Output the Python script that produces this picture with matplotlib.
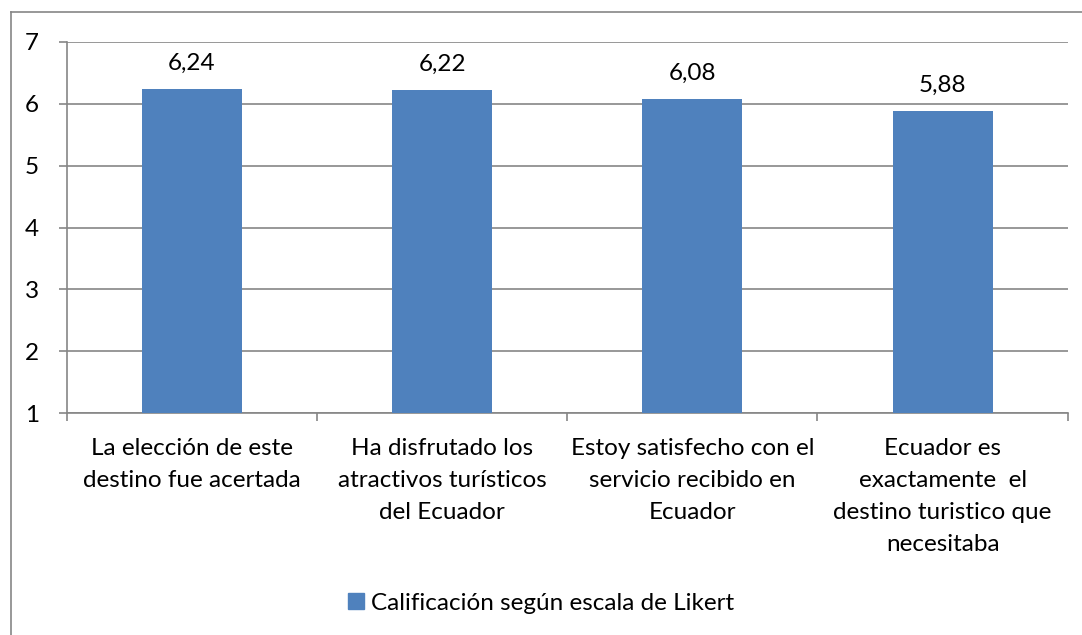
import matplotlib.pyplot as plt
from matplotlib.lines import Line2D
from matplotlib.patches import Patch

# datos del gráfico
categorias = [
    'La elección de este\ndestino fue acertada',
    'Ha disfrutado los\natractivos turísticos\ndel Ecuador',
    'Estoy satisfecho con el\nservicio recibido en\nEcuador',
    'Ecuador es\nexactamente  el\ndestino turistico que\nnecesitaba',
]
valores = [6.24, 6.22, 6.08, 5.88]
serie = 'Calificación según escala de Likert'

plt.rcParams['font.family'] = ['Lato', 'DejaVu Sans']
W, H = 1082, 635
fig = plt.figure(figsize=(W / 100, H / 100), dpi=100)

# área del gráfico en píxeles
x0, x1, y0, y1 = 66.7, 1067.7, 41.7, 413.3
ax = fig.add_axes([x0 / W, 1 - y1 / H, (x1 - x0) / W, (y1 - y0) / H])

azul = '#4F81BD'
gris = '#868686'
fs = 17.5
pos = list(range(len(valores)))
ax.bar(pos, [v - 1 for v in valores], bottom=1, width=0.4, color=azul, zorder=3)

for p, v in zip(pos, valores):
    ax.annotate(f'{v:.2f}'.replace('.', ','), (p, v), xytext=(0, 11),
                textcoords='offset points', ha='center', va='bottom', fontsize=fs)

ax.set_xlim(-0.5, len(valores) - 0.5)
ax.set_ylim(1, 7)
ax.set_yticks(range(1, 8))
ax.yaxis.grid(True, color=gris, linewidth=1.2, zorder=0)

ax.set_xticks(pos)
ax.set_xticklabels(categorias, fontsize=fs, linespacing=1.65)
ax.set_xticks([p - 0.5 for p in pos] + [len(valores) - 0.5], minor=True)
ax.tick_params(axis='x', which='major', length=0, pad=17.5)
ax.tick_params(axis='x', which='minor', length=6, color=gris, width=1.2)
ax.tick_params(axis='y', length=6, color=gris, width=1.2, labelsize=fs, pad=14)

for lado in ['top', 'right']:
    ax.spines[lado].set_visible(False)
for lado in ['left', 'bottom']:
    ax.spines[lado].set_color(gris)
    ax.spines[lado].set_linewidth(1.2)

# leyenda
fig.legend(handles=[Patch(color=azul, label=serie)], loc='center',
           bbox_to_anchor=(0.5, 1 - 603 / H), frameon=False, fontsize=fs,
           handlelength=0.65, handleheight=0.65, handletextpad=0.3)

# borde exterior del gráfico
fig.add_artist(Line2D([11 / W, 11 / W], [0, 1 - 12 / H], color=gris, linewidth=1.2))
fig.add_artist(Line2D([11 / W, 1], [1 - 12 / H, 1 - 12 / H], color=gris, linewidth=1.2))

fig.savefig('out.png', dpi=100)
